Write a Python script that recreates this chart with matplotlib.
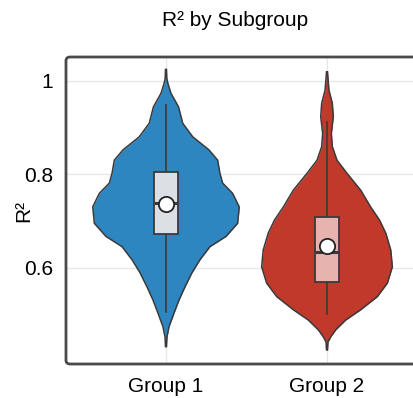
import matplotlib
matplotlib.use("Agg")
import matplotlib.pyplot as plt
from matplotlib.patches import FancyBboxPatch, Rectangle

plt.rcParams["font.family"] = ["Liberation Sans", "DejaVu Sans"]

# kategoriler
groups = ["Group 1", "Group 2"]
colors = ["#2E86C1", "#C0392B"]
box_colors = ["#DCDFE3", "#E6B3AE"]

# violin profili: R2 degerleri ve yarim genislik (kategori birimi)
g1_y = [1.024, 1.005, 0.994, 0.973, 0.944, 0.909, 0.880, 0.852, 0.830, 0.802, 0.781,
        0.759, 0.730, 0.695, 0.667, 0.645, 0.617, 0.589, 0.559, 0.531, 0.503, 0.474,
        0.452, 0.431]
g1_w = [0.003, 0.005, 0.012, 0.031, 0.078, 0.104, 0.166, 0.267, 0.321, 0.335, 0.352,
        0.414, 0.455, 0.445, 0.373, 0.273, 0.211, 0.161, 0.118, 0.081, 0.050, 0.019,
        0.006, 0.003]

g2_y = [1.019, 0.980, 0.952, 0.923, 0.887, 0.859, 0.830, 0.802, 0.766, 0.730, 0.702,
        0.674, 0.638, 0.602, 0.567, 0.538, 0.510, 0.488, 0.467, 0.452, 0.441, 0.424]
g2_w = [0.003, 0.012, 0.033, 0.039, 0.027, 0.033, 0.062, 0.124, 0.209, 0.271, 0.326,
        0.365, 0.396, 0.406, 0.375, 0.312, 0.209, 0.116, 0.054, 0.023, 0.006, 0.003]

# kutu grafigi istatistikleri
q1 = [0.673, 0.570]
q3 = [0.805, 0.708]
medians = [0.738, 0.633]
means = [0.736, 0.646]
whisk_lo = [0.506, 0.501]
whisk_hi = [0.948, 0.912]

yticks = [0.6, 0.8, 1.0]
ytick_labels = ["0.6", "0.8", "1"]

profiles = [(g1_y, g1_w), (g2_y, g2_w)]

fig = plt.figure(figsize=(4.14, 3.98), dpi=100)
ax = fig.add_axes([0.1594, 0.0854, 0.872, 0.7714])

edge = "#3a3a3a"
box_half = 0.0745

for i, (ys, ws) in enumerate(profiles):
    left = [i - w for w in ws]
    right = [i + w for w in ws]
    ax.fill_betweenx(ys, left, right, color=colors[i], lw=0, zorder=2)
    # dis cizgi
    ax.plot(left + right[::-1], ys + ys[::-1], color=edge, lw=1.1, zorder=3,
            solid_joinstyle="round")
    # whisker
    ax.plot([i, i], [whisk_lo[i], whisk_hi[i]], color=edge, lw=1.2, zorder=3)
    # kutu
    ax.add_patch(Rectangle((i - box_half, q1[i]), 2 * box_half, q3[i] - q1[i],
                           facecolor=box_colors[i], edgecolor=edge, lw=1.3, zorder=4))
    ax.plot([i - box_half, i + box_half], [medians[i], medians[i]], color=edge, lw=2.2,
            solid_capstyle="butt", zorder=5)
    ax.plot(i, means[i], "o", ms=11, mfc="white", mec="#222222", mew=1.3, zorder=6)

ax.set_xlim(-0.621, 1.621)
ax.set_ylim(0.394, 1.0507)
ax.set_xticks(range(len(groups)))
ax.set_xticklabels(groups, fontsize=15)
ax.set_yticks(yticks)
ax.set_yticklabels(ytick_labels, fontsize=15)
ax.tick_params(length=0)
ax.tick_params(axis="x", pad=9.5)
ax.tick_params(axis="y", pad=9)
ax.grid(True, color="#E6E6E6", lw=0.9, zorder=0)
ax.set_axisbelow(True)
for s in ax.spines.values():
    s.set_visible(False)

ax.set_ylabel("R²", fontsize=15)
ax.yaxis.set_label_coords(-0.09, 0.5)

# yuvarlak koseli cerceve
frame = FancyBboxPatch((0, 0), 1, 1, boxstyle="round,pad=0,rounding_size=0.012",
                       transform=ax.transAxes, facecolor="none", edgecolor="#4a4a4a",
                       lw=2.0, clip_on=False, zorder=10)
ax.add_patch(frame)

fig.text(235 / 414, 1 - 20 / 398, "R² by Subgroup", fontsize=15, ha="center", va="center")

fig.savefig("out.png", dpi=100)
